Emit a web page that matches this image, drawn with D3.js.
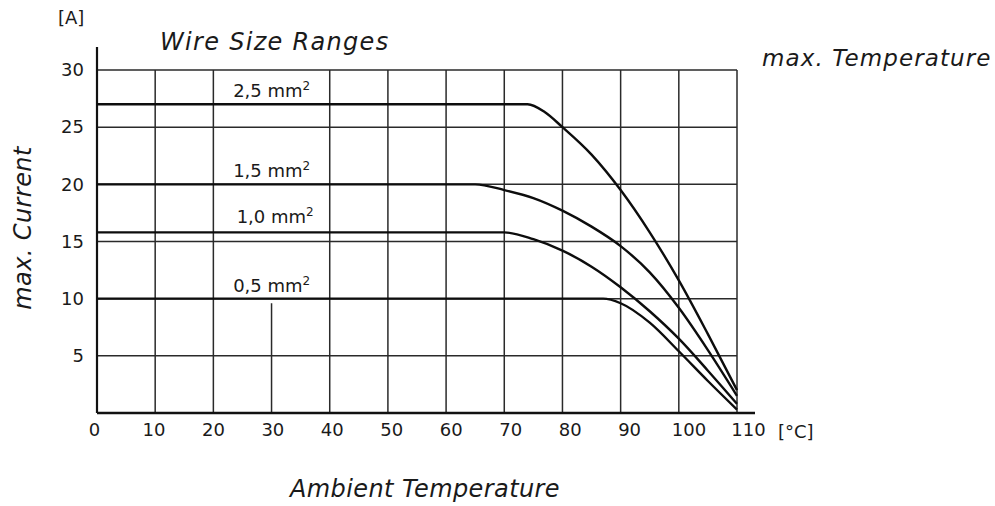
<!DOCTYPE html>
<html>
<head>
<meta charset="utf-8">
<script src="https://cdn.jsdelivr.net/npm/d3@7"></script>
<style>
  body { margin: 0; background: #fff; }
  svg { display: block; }
  text { font-family: "DejaVu Sans", sans-serif; fill: #1a1a1a; }
  .tick text { font-size: 18px; }
  .grid line { stroke: #2a2a2a; stroke-width: 1.5; }
  .curve { fill: none; stroke: #0d0d0d; stroke-width: 2.4; }
</style>
</head>
<body>
<div id="vis"></div>
<script>
const FRAME_WIDTH = 995;
const FRAME_HEIGHT = 506;
const MARGINS = {left: 97, right: 258, top: 70, bottom: 93};

// wire sizes and their derating curves, [ambient °C, max current A]
const wireSizes = ["2,5", "1,5", "1,0", "0,5"];
const curve25 = [[0, 27], [74, 27], [77, 26.3], [80, 25], [85, 22.6], [90, 19.5],
                 [95, 15.8], [100, 11.6], [105, 6.9], [110, 2.0]];
const curve15 = [[0, 20], [65, 20], [70, 19.5], [75, 18.8], [80, 17.7], [85, 16.3],
                 [90, 14.6], [95, 12.3], [100, 9.2], [105, 5.5], [110, 1.5]];
const curve10 = [[0, 15.8], [70, 15.8], [75, 15.2], [80, 14.2], [85, 12.8], [90, 11.0],
                 [95, 8.9], [100, 6.5], [105, 3.7], [110, 0.8]];
const curve05 = [[0, 10], [87, 10], [90, 9.6], [95, 7.9], [100, 5.4], [105, 2.8], [110, 0.3]];
const curves = [curve25, curve15, curve10, curve05];

// tick labels
const xTicks = [0, 10, 20, 30, 40, 50, 60, 70, 80, 90, 100, 110];
const yTicks = [5, 10, 15, 20, 25, 30];

const VIS_WIDTH = FRAME_WIDTH - MARGINS.left - MARGINS.right;
const VIS_HEIGHT = FRAME_HEIGHT - MARGINS.top - MARGINS.bottom;

const svg = d3.select("#vis")
  .append("svg")
    .attr("width", FRAME_WIDTH)
    .attr("height", FRAME_HEIGHT);

const X_SCALE = d3.scaleLinear().domain([0, 110]).range([MARGINS.left, MARGINS.left + VIS_WIDTH]);
const Y_SCALE = d3.scaleLinear().domain([0, 30]).range([MARGINS.top + VIS_HEIGHT, MARGINS.top]);
// printed x labels drift a little to the right of their grid lines
const X_LABEL = d3.scaleLinear().domain([0, 110]).range([X_SCALE(0) - 3, X_SCALE(110) + 11]);

const grid = svg.append("g").attr("class", "grid");

// horizontal grid lines
grid.selectAll(".hline")
  .data(yTicks)
  .enter()
  .append("line")
    .attr("x1", X_SCALE(0))
    .attr("x2", X_SCALE(110))
    .attr("y1", d => Y_SCALE(d))
    .attr("y2", d => Y_SCALE(d));

// vertical grid lines (the 30 °C line only runs below the 0,5 mm² curve)
grid.selectAll(".vline")
  .data(xTicks.slice(1))
  .enter()
  .append("line")
    .attr("x1", d => X_SCALE(d))
    .attr("x2", d => X_SCALE(d))
    .attr("y1", d => d === 30 ? Y_SCALE(9.6) : Y_SCALE(30))
    .attr("y2", Y_SCALE(0));

// axis lines
svg.append("line")
  .attr("x1", X_SCALE(0)).attr("x2", X_SCALE(0))
  .attr("y1", Y_SCALE(0)).attr("y2", Y_SCALE(30) - 23)
  .attr("stroke", "#111").attr("stroke-width", 2.2);
svg.append("line")
  .attr("x1", X_SCALE(0)).attr("x2", X_SCALE(110) + 18)
  .attr("y1", Y_SCALE(0)).attr("y2", Y_SCALE(0))
  .attr("stroke", "#111").attr("stroke-width", 2.4);

// tick labels through axes, without lines
svg.append("g")
  .attr("transform", "translate(0," + (Y_SCALE(0) + 7) + ")")
  .call(d3.axisBottom(X_LABEL).tickValues(xTicks).tickSize(0).tickFormat(d3.format("d")))
  .call(g => g.select(".domain").remove());

svg.append("g")
  .attr("transform", "translate(" + (X_SCALE(0) - 10) + ",0)")
  .call(d3.axisLeft(Y_SCALE).tickValues(yTicks).tickSize(0).tickFormat(d3.format("d")))
  .call(g => g.select(".domain").remove());

svg.selectAll(".tick text").attr("fill", "#1a1a1a");

// curves
const line = d3.line()
  .x(d => X_SCALE(d[0]))
  .y(d => Y_SCALE(d[1]))
  .curve(d3.curveMonotoneX);

svg.selectAll(".curve")
  .data(curves)
  .enter()
  .append("path")
    .attr("class", "curve")
    .attr("d", line);

// wire size labels above the flat part of each curve
const labels = svg.selectAll(".wlabel")
  .data(wireSizes)
  .enter()
  .append("text")
    .attr("x", (d, i) => X_SCALE(i === 2 ? 24 : 23.4))
    .attr("y", (d, i) => Y_SCALE(curves[i][0][1]) - (i === 2 ? 9 : 7))
    .attr("font-size", 18);
labels.append("tspan").text(d => d + " mm");
labels.append("tspan").text("2").attr("font-size", 12).attr("dy", -7);

// titles
svg.append("text")
  .attr("x", 58).attr("y", 24)
  .attr("font-size", 18)
  .text("[A]");

svg.append("text")
  .attr("x", 160).attr("y", 50)
  .attr("font-size", 24).attr("font-style", "italic")
  .attr("letter-spacing", 1.3)
  .text("Wire Size Ranges");

svg.append("text")
  .attr("x", 762).attr("y", 66)
  .attr("font-size", 23).attr("font-style", "italic")
  .attr("letter-spacing", 1.1)
  .text("max. Temperature");

svg.append("text")
  .attr("x", 778).attr("y", 438)
  .attr("font-size", 18)
  .text("[°C]");

svg.append("text")
  .attr("x", 425).attr("y", 497)
  .attr("text-anchor", "middle")
  .attr("font-size", 24).attr("font-style", "italic")
  .attr("letter-spacing", 0.4)
  .text("Ambient Temperature");

svg.append("text")
  .attr("transform", "translate(31,228) rotate(-90)")
  .attr("text-anchor", "middle")
  .attr("font-size", 24).attr("font-style", "italic")
  .attr("letter-spacing", 0.4)
  .text("max. Current");
</script>
</body>
</html>
